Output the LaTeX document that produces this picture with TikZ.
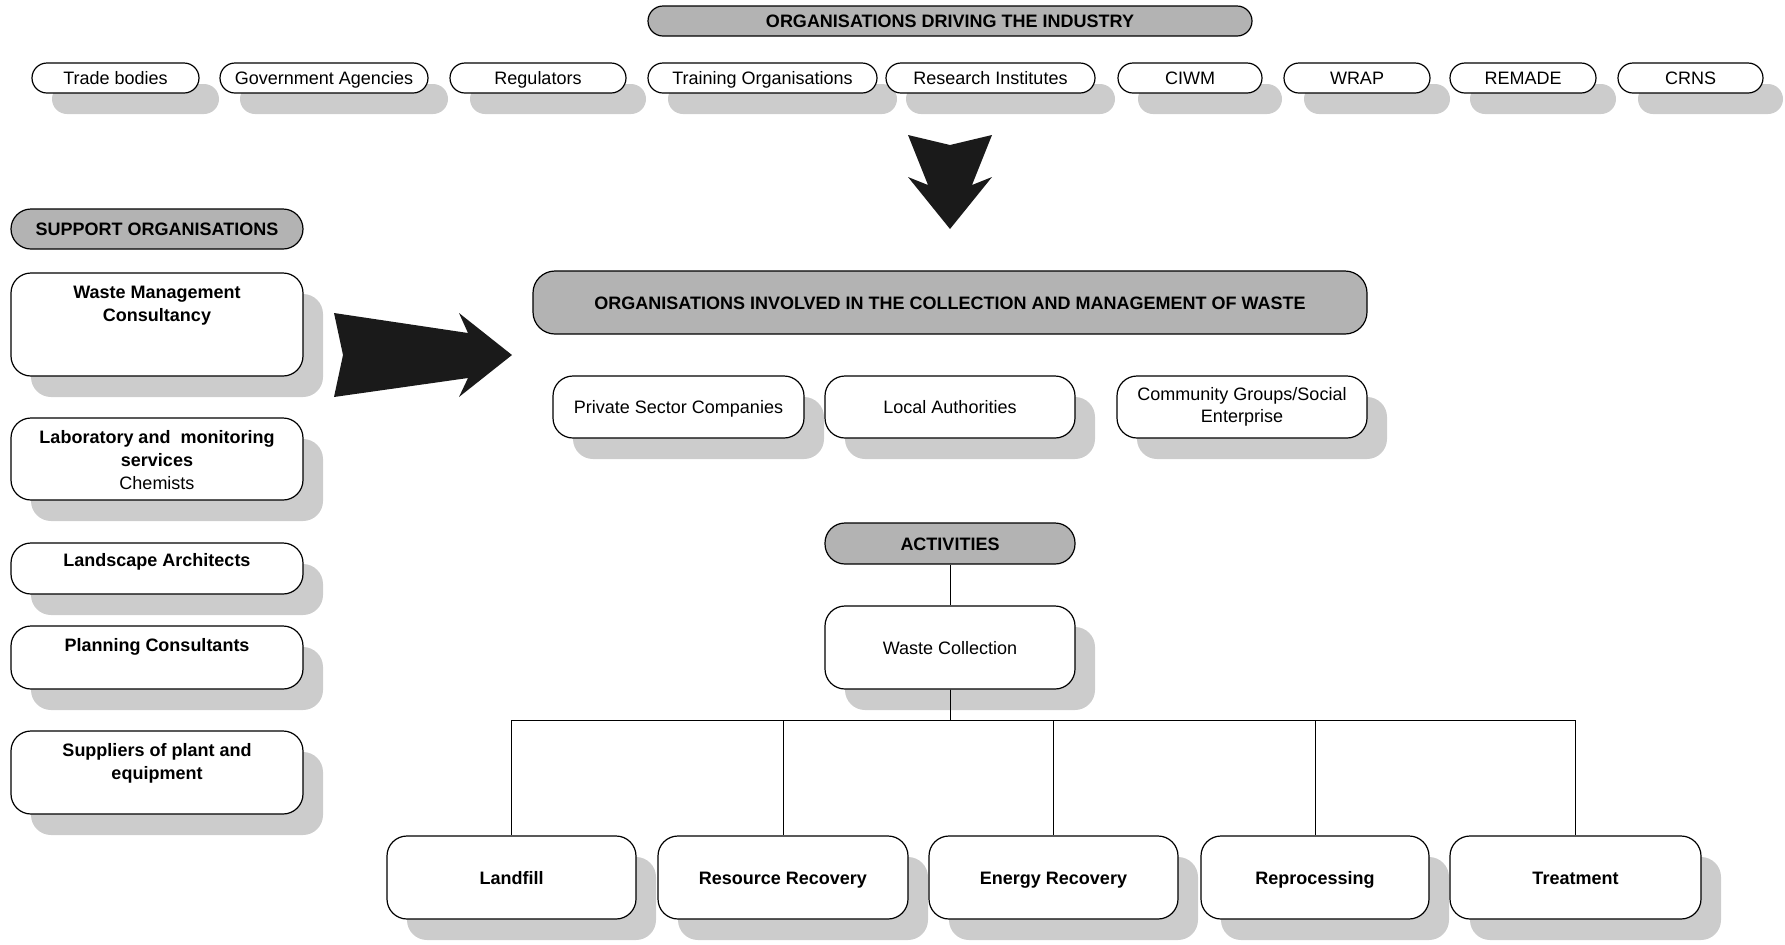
\documentclass[tikz,border=0pt]{standalone}
\usepackage{fontspec}
\setmainfont{Liberation Sans}
\usetikzlibrary{shadows}
\definecolor{hdrgrey}{RGB}{179,179,179}
\definecolor{shadegrey}{RGB}{204,204,204}
\definecolor{arrowblack}{RGB}{26,26,26}

\begin{document}
\begin{tikzpicture}[
      x=0.5pt, y=-0.5pt,
      font=\fontsize{9}{11}\selectfont,
      plain/.style={
        rectangle, draw, line width=0.6pt, inner sep=0pt, align=center
      },
      oneline/.style={text height=6.5pt, text depth=0pt},
      hdr/.style={plain, oneline, fill=hdrgrey, font=\fontsize{9}{11}\selectfont\bfseries},
      box/.style={
        plain, fill=white,
        drop shadow={shadow xshift=10pt, shadow yshift=-10.5pt, fill=shadegrey, opacity=1}
      },
      pill/.style={box, oneline, rounded corners=7.5pt, minimum height=15pt},
      card/.style={box, rounded corners=10pt},
      act/.style={card, oneline, minimum height=41.5pt, font=\fontsize{9}{11}\selectfont\bfseries},
      toptext/.style={anchor=north, inner sep=0pt, yshift=-6.5pt, align=center,
        font=\fontsize{9}{11.5}\selectfont\bfseries}
    ]
    \useasboundingbox (0,0) rectangle (1785,944);

    % organisations driving the industry
    \node[hdr, rounded corners=7.5pt, minimum width=302pt, minimum height=15pt] (drv) at (950,21)
      {ORGANISATIONS DRIVING THE INDUSTRY};
    \node[pill, minimum width=83.5pt]  (trade) at (115.5,78) {Trade bodies};
    \node[pill, minimum width=104pt]   (gov)   at (324,78)   {Government Agencies};
    \node[pill, minimum width=88pt]    (reg)   at (538,78)   {Regulators};
    \node[pill, minimum width=114.5pt] (train) at (762.5,78) {Training Organisations};
    \node[pill, minimum width=104.5pt] (res)   at (990.5,78) {Research Institutes};
    \node[pill, minimum width=72pt]    (ciwm)  at (1190,78)  {CIWM};
    \node[pill, minimum width=73pt]    (wrap)  at (1357,78)  {WRAP};
    \node[pill, minimum width=73pt]    (remade) at (1523,78) {REMADE};
    \node[pill, minimum width=72.5pt]  (crns)  at (1690.5,78) {CRNS};

    % support organisations
    \node[hdr, rounded corners=10pt, minimum width=146pt, minimum height=20pt] (sup) at (157,229)
      {SUPPORT ORGANISATIONS};
    \node[card, minimum width=146pt, minimum height=51.5pt] (wmc)  at (157,324.5) {};
    \node[card, minimum width=146pt, minimum height=41pt]   (lab)  at (157,459)   {};
    \node[card, minimum width=146pt, minimum height=25.5pt] (land) at (157,568.5) {};
    \node[card, minimum width=146pt, minimum height=31.5pt] (plan) at (157,657.5) {};
    \node[card, minimum width=146pt, minimum height=41.5pt] (kit)  at (157,772.5) {};
    \node[toptext] (wmc-t)  at (wmc.north)  {Waste Management\\Consultancy};
    \node[toptext] (lab-t)  at (lab.north)  {Laboratory and\ \ monitoring\\services\\\mdseries Chemists};
    \node[toptext, yshift=1pt] (land-t) at (land.north) {Landscape Architects};
    \node[toptext] (plan-t) at (plan.north) {Planning Consultants};
    \node[toptext] (kit-t)  at (kit.north)  {Suppliers of plant and\\equipment};

    % organisations involved
    \node[hdr, rounded corners=11pt, minimum width=417pt, minimum height=31.5pt] (inv) at (950,302.5)
      {ORGANISATIONS INVOLVED IN THE COLLECTION AND MANAGEMENT OF WASTE};
    \node[card, oneline, minimum width=125.5pt, minimum height=31pt] (priv) at (678.5,407) {Private Sector Companies};
    \node[card, oneline, minimum width=125pt, minimum height=31pt]   (loc)  at (950,407)   {Local Authorities};
    \node[card, minimum width=125pt, minimum height=31pt]   (comm) at (1242,407)  {Community Groups/Social\\Enterprise};

    % activities
    \node[hdr, rounded corners=10pt, minimum width=125pt, minimum height=20.5pt] (act) at (950,543.5) {ACTIVITIES};
    \node[card, oneline, minimum width=125pt, minimum height=41.5pt] (wc) at (950,647.5) {Waste Collection};
    \node[act, minimum width=124.5pt] (fill) at (511.5,877.5)  {Landfill};
    \node[act, minimum width=125pt]   (rr)   at (783,877.5)    {Resource Recovery};
    \node[act, minimum width=124.5pt] (er)   at (1053.5,877.5) {Energy Recovery};
    \node[act, minimum width=114pt]   (rep)  at (1315,877.5)   {Reprocessing};
    \node[act, minimum width=125.5pt] (trt)  at (1575.5,877.5) {Treatment};

    \coordinate (bus) at (950,720);
    \draw[line width=0.5pt] (act) -- (wc);
    \foreach \b in {fill, rr, er, rep, trt}
      \draw[line width=0.5pt] (wc.south) -- (wc.south |- bus) -| (\b.north);

    % block arrows
    \fill[arrowblack] (908,135) -- (950,145) -- (992,135) -- (972,185) -- (992,177)
      -- (950,229) -- (908,177) -- (928,185) -- cycle;
    \fill[arrowblack] (334,313) -- (343,355) -- (334,397) -- (468,378) -- (459,397)
      -- (512,355) -- (459,313) -- (468,333) -- cycle;
  \end{tikzpicture}
\end{document}
